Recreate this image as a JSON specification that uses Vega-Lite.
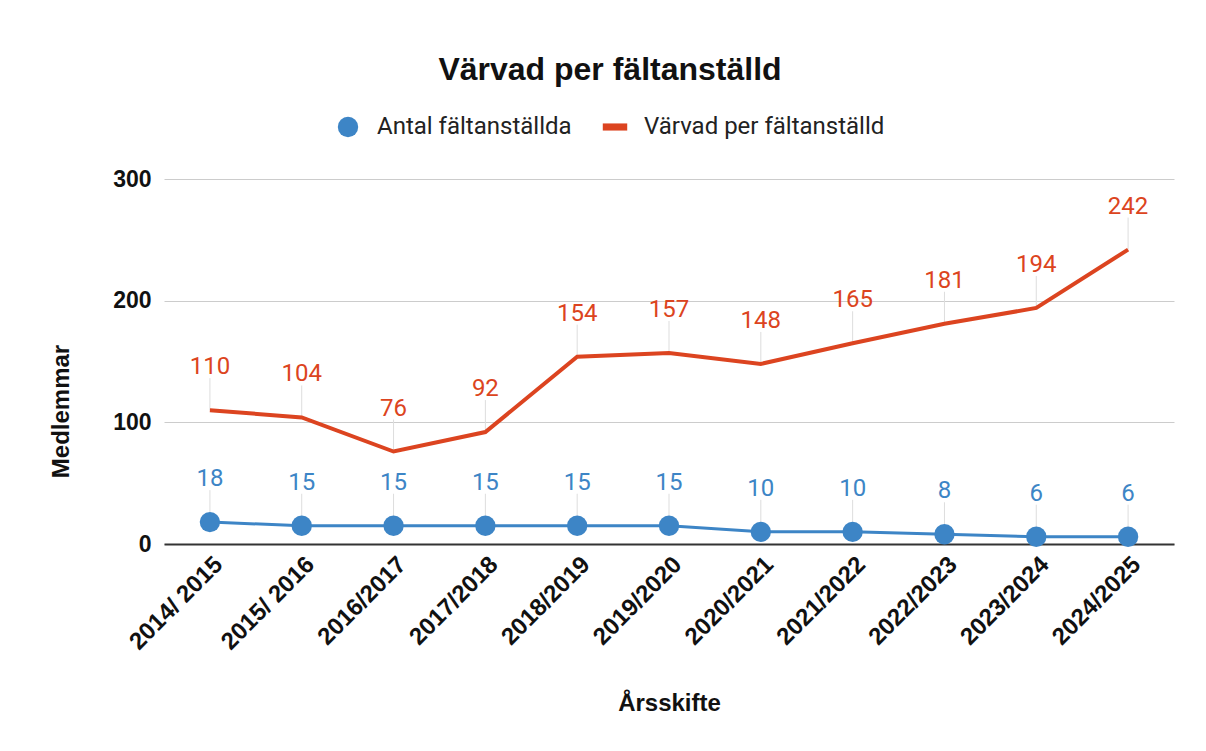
{
  "$schema": "https://vega.github.io/schema/vega-lite/v6.json",
  "autosize": {"type": "none"},
  "width": 1010,
  "height": 365,
  "padding": {"left": 164, "top": 179, "right": 32, "bottom": 207},
  "background": "white",
  "title": {
    "text": "Värvad per fältanställd",
    "font": "Liberation Sans",
    "fontSize": 32,
    "fontWeight": "bold",
    "color": "#111111",
    "anchor": "middle",
    "frame": "group",
    "dx": -59,
    "offset": 28
  },
  "config": {
    "view": {"stroke": null},
    "axis": {"labelFont": "Liberation Sans", "titleFont": "Liberation Sans"}
  },
  "resolve": {"legend": {"color": "independent", "shape": "independent"}},
  "data": {
    "values": [
      {"year": "2014/ 2015", "series": "Antal fältanställda", "value": 18},
      {"year": "2015/ 2016", "series": "Antal fältanställda", "value": 15},
      {"year": "2016/2017", "series": "Antal fältanställda", "value": 15},
      {"year": "2017/2018", "series": "Antal fältanställda", "value": 15},
      {"year": "2018/2019", "series": "Antal fältanställda", "value": 15},
      {"year": "2019/2020", "series": "Antal fältanställda", "value": 15},
      {"year": "2020/2021", "series": "Antal fältanställda", "value": 10},
      {"year": "2021/2022", "series": "Antal fältanställda", "value": 10},
      {"year": "2022/2023", "series": "Antal fältanställda", "value": 8},
      {"year": "2023/2024", "series": "Antal fältanställda", "value": 6},
      {"year": "2024/2025", "series": "Antal fältanställda", "value": 6},
      {"year": "2014/ 2015", "series": "Värvad per fältanställd", "value": 110},
      {"year": "2015/ 2016", "series": "Värvad per fältanställd", "value": 104},
      {"year": "2016/2017", "series": "Värvad per fältanställd", "value": 76},
      {"year": "2017/2018", "series": "Värvad per fältanställd", "value": 92},
      {"year": "2018/2019", "series": "Värvad per fältanställd", "value": 154},
      {"year": "2019/2020", "series": "Värvad per fältanställd", "value": 157},
      {"year": "2020/2021", "series": "Värvad per fältanställd", "value": 148},
      {"year": "2021/2022", "series": "Värvad per fältanställd", "value": 165},
      {"year": "2022/2023", "series": "Värvad per fältanställd", "value": 181},
      {"year": "2023/2024", "series": "Värvad per fältanställd", "value": 194},
      {"year": "2024/2025", "series": "Värvad per fältanställd", "value": 242}
    ]
  },
  "encoding": {
    "x": {
      "field": "year",
      "type": "nominal",
      "sort": null,
      "scale": {"type": "point", "padding": 0.5},
      "axis": {
        "title": "Årsskifte",
        "titleFontSize": 24,
        "titleFontWeight": "bold",
        "titleColor": "#111111",
        "titleBaseline": "middle",
        "titleY": 159,
        "labelAngle": -45,
        "labelFontSize": 24,
        "labelFontWeight": "bold",
        "labelColor": "#111111",
        "labelPadding": 8,
        "ticks": false,
        "grid": false,
        "domain": true,
        "domainColor": "#333333",
        "domainWidth": 2
      }
    },
    "y": {
      "field": "value",
      "type": "quantitative",
      "scale": {"domain": [0, 300], "nice": false},
      "axis": {
        "title": "Medlemmar",
        "titleFontSize": 24,
        "titleFontWeight": "bold",
        "titleColor": "#111111",
        "titleX": -103,
        "titleY": 232,
        "titleAlign": "center",
        "titleBaseline": "middle",
        "titleAngle": -90,
        "values": [0, 100, 200, 300],
        "labelFontSize": 23,
        "labelFontWeight": "bold",
        "labelColor": "#111111",
        "labelPadding": 13,
        "ticks": false,
        "domain": false,
        "grid": true,
        "gridColor": "#cccccc",
        "gridWidth": 1
      }
    }
  },
  "layer": [
    {
      "mark": {"type": "rule", "color": "#dddddd", "strokeWidth": 1, "y2Offset": -32},
      "encoding": {
        "y2": {"field": "value"}
      }
    },
    {
      "mark": {"type": "line"},
      "encoding": {
        "color": {
          "field": "series",
          "type": "nominal",
          "scale": {"domain": ["Antal fältanställda", "Värvad per fältanställd"], "range": ["#3d85c6", "#dc4420"]},
          "legend": null
        },
        "strokeWidth": {
          "field": "series",
          "type": "nominal",
          "scale": {"domain": ["Antal fältanställda", "Värvad per fältanställd"], "range": [3, 4]},
          "legend": null
        }
      }
    },
    {
      "transform": [{"filter": "datum.series === 'Antal fältanställda'"}],
      "mark": {"type": "point", "filled": true, "opacity": 1, "size": 415},
      "encoding": {
        "color": {
          "field": "series",
          "type": "nominal",
          "scale": {"domain": ["Antal fältanställda", "Värvad per fältanställd"], "range": ["#3d85c6", "#dc4420"]},
          "legend": {
            "title": null,
            "orient": "none",
            "legendX": 172,
            "legendY": -64,
            "direction": "horizontal",
            "padding": 0,
            "labelFont": "Roboto",
            "labelFontSize": 24,
            "labelColor": "#222222",
            "labelOffset": 17,
            "labelLimit": 0,
            "columnPadding": 30,
            "symbolSize": 415,
            "symbolStrokeWidth": 0,
            "symbolOpacity": 1
          }
        },
        "shape": {
          "field": "series",
          "type": "nominal",
          "scale": {"domain": ["Antal fältanställda", "Värvad per fältanställd"], "range": ["circle", "M-1.2,-0.35H1.2V0.35H-1.2Z"]},
          "legend": {
            "title": null,
            "orient": "none",
            "legendX": 172,
            "legendY": -64,
            "direction": "horizontal",
            "padding": 0,
            "labelFont": "Roboto",
            "labelFontSize": 24,
            "labelColor": "#222222",
            "labelOffset": 17,
            "labelLimit": 0,
            "columnPadding": 30,
            "symbolSize": 415,
            "symbolStrokeWidth": 0,
            "symbolOpacity": 1
          }
        }
      }
    },
    {
      "mark": {"type": "text", "font": "Roboto", "fontSize": 24, "baseline": "alphabetic", "dy": -36},
      "encoding": {
        "text": {"field": "value", "type": "quantitative"},
        "color": {
          "field": "series",
          "type": "nominal",
          "scale": {"domain": ["Antal fältanställda", "Värvad per fältanställd"], "range": ["#3d85c6", "#dc4420"]},
          "legend": null
        }
      }
    }
  ]
}
